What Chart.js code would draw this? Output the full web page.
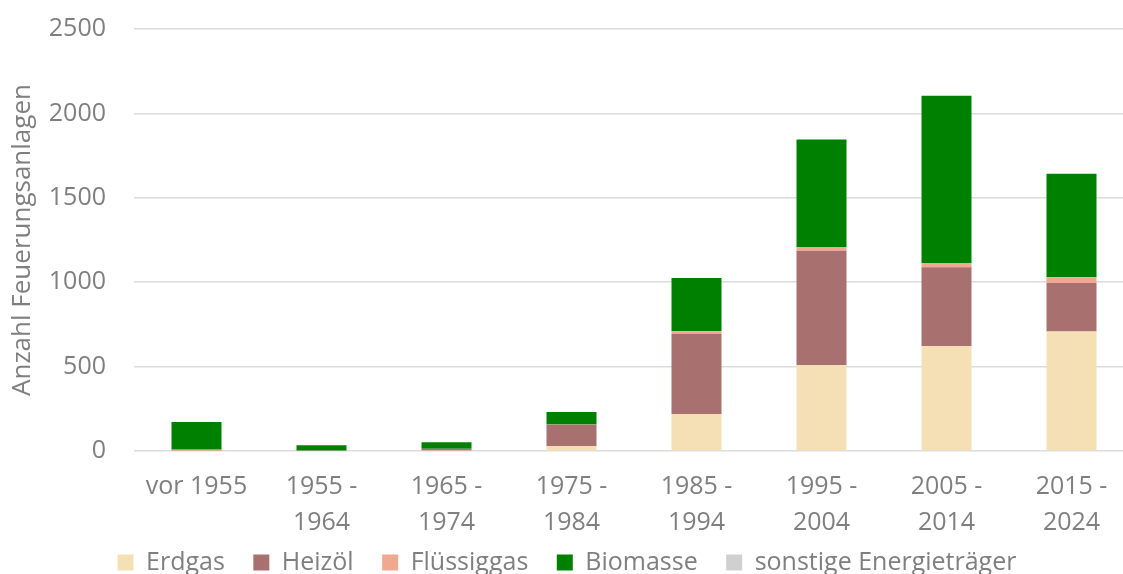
<!DOCTYPE html>
<html>
<head>
<meta charset="utf-8">
<script src="https://cdn.jsdelivr.net/npm/chart.js@4"></script>
<style>
    html, body { margin: 0; padding: 0; background: #ffffff; overflow: hidden; }
    #wrap { width: 1135px; height: 585px; }
</style>
</head>
<body>
<div id="wrap"><canvas id="feuerung-chart" width="1135" height="585"></canvas></div>
<script>
// Feuerungsanlagen nach Baujahr und Energieträger

const categories = [
    'vor 1955', ['1955 -', '1964'], ['1965 -', '1974'], ['1975 -', '1984'],
    ['1985 -', '1994'], ['1995 -', '2004'], ['2005 -', '2014'], ['2015 -', '2024']
];

const erdgas = [2, 0, 3, 28, 219, 508, 621, 708];
const heizoel = [8, 3, 10, 127, 474, 678, 468, 288];
const fluessiggas = [0, 0, 1, 2, 16, 22, 25, 34];
const biomasse = [162, 31, 38, 74, 316, 638, 990, 612];
const sonstige = [0, 0, 0, 0, 0, 0, 0, 0];

const yTicks = [0, 500, 1000, 1500, 2000, 2500];

const textColor = '#7f7f7f';
const fontFamily = "'Open Sans', 'DejaVu Sans', sans-serif";

function series(label, data, color) {
    return {
        label,
        data,
        backgroundColor: color,
        borderWidth: 0,
        barPercentage: 0.4,
        categoryPercentage: 1.0,
    };
}

const ctx = document.getElementById('feuerung-chart');

new Chart(ctx, {
    type: 'bar',
    data: {
        labels: categories,
        datasets: [
            series('Erdgas', erdgas, '#f5e0b5'),
            series('Heizöl', heizoel, '#a97070'),
            series('Flüssiggas', fluessiggas, '#f0a890'),
            series('Biomasse', biomasse, '#008000'),
            series('sonstige Energieträger', sonstige, '#d0d0d0'),
        ]
    },
    options: {
        responsive: false,
        animation: false,
        devicePixelRatio: 1,
        layout: {
            padding: { top: 29, left: 0, right: 1, bottom: 0 }
        },
        scales: {
            x: {
                stacked: true,
                grid: { display: false, drawTicks: false },
                border: { display: false },
                ticks: {
                    color: textColor,
                    padding: 18,
                    maxRotation: 0,
                    autoSkip: false,
                    font: { family: fontFamily, size: 25, lineHeight: 1.44 }
                },
                afterFit: (scale) => { scale.height = 90; }
            },
            y: {
                stacked: true,
                min: 0,
                max: 2500,
                afterBuildTicks: (scale) => {
                    scale.ticks = yTicks.map(v => ({ value: v }));
                },
                grid: { color: '#dcdcdc', lineWidth: 1.5, drawTicks: false },
                border: { display: false },
                ticks: {
                    color: textColor,
                    padding: 28,
                    font: { family: fontFamily, size: 25 },
                    callback: (value) => String(value)
                },
                title: {
                    display: true,
                    text: 'Anzahl Feuerungsanlagen',
                    color: textColor,
                    padding: { top: 7, bottom: 0 },
                    font: { family: fontFamily, size: 26 }
                },
                afterFit: (scale) => {
                    scale.width = 134;
                    // tick padding must not push the plot top down
                    scale.paddingTop = 0;
                    scale.paddingBottom = 0;
                }
            }
        },
        plugins: {
            legend: {
                position: 'bottom',
                labels: {
                    color: textColor,
                    boxWidth: 16,
                    boxHeight: 16,
                    padding: 9,
                    font: { family: fontFamily, size: 25 },
                    // wider gaps between the items, the row stays low
                    generateLabels: (chart) => {
                        const items = Chart.defaults.plugins.legend.labels.generateLabels(chart);
                        items.forEach((item, i) => {
                            if (i < items.length - 1) item.text = item.text + '   ';
                        });
                        return items;
                    }
                }
            },
            tooltip: { enabled: false }
        }
    }
});
</script>
</body>
</html>
